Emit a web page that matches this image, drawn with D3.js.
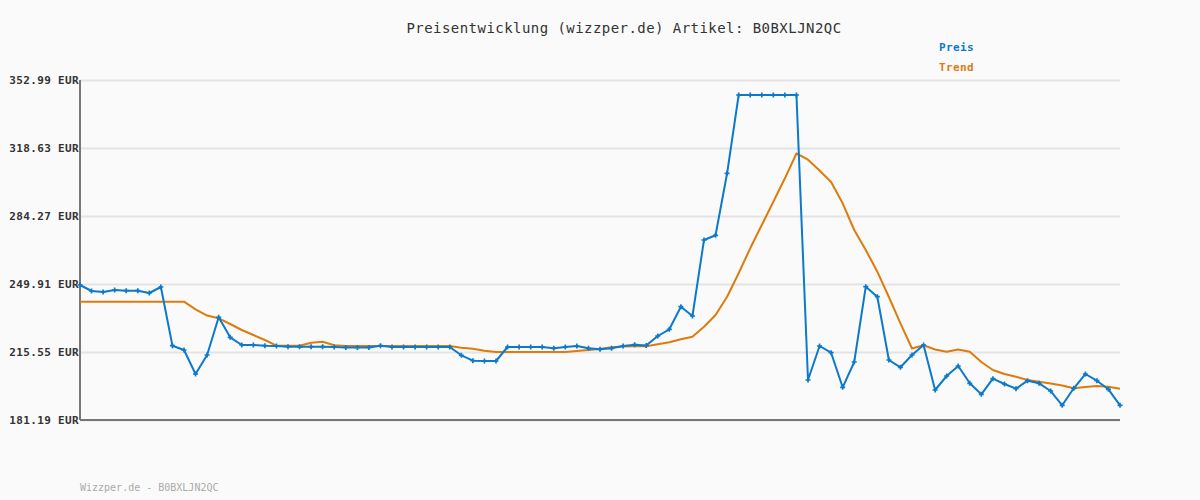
<!DOCTYPE html>
<html>
<head>
<meta charset="utf-8">
<script src="https://cdn.jsdelivr.net/npm/d3@7"></script>
<style>
  html, body { margin: 0; padding: 0; background: #fafafa; }
  text { font-family: "DejaVu Sans Mono", "Liberation Mono", monospace; }
</style>
</head>
<body>
<div id="chart"></div>
<script>
// price history (EUR), one value per sample
var preis = [
  249.40, 246.37, 245.87, 246.88, 246.52, 246.52, 245.36, 248.39, 218.73, 216.56,
  204.43, 214.03, 233.08, 222.98, 219.09, 219.09, 218.73, 218.58, 218.23, 218.23,
  218.23, 218.23, 218.08, 217.82, 217.82, 217.82, 218.73, 218.08, 218.08, 218.08,
  218.08, 218.08, 218.08, 213.88, 211.15, 211.00, 211.00, 218.08, 218.08, 218.08,
  218.08, 217.42, 218.08, 218.58, 217.42, 216.91, 217.42, 218.58, 219.24, 218.83,
  223.63, 227.02, 238.44, 233.74, 272.14, 274.52, 305.85, 345.41, 345.41, 345.41,
  345.41, 345.41, 345.41, 201.40, 218.58, 215.20, 197.71, 210.50, 248.55, 243.49,
  211.51, 207.82, 214.03, 219.09, 196.35, 203.42, 208.48, 199.73, 194.18, 202.06,
  199.38, 197.01, 201.05, 199.73, 195.84, 188.62, 197.21, 204.43, 201.05, 196.70,
  188.62
];

// trend line (EUR)
var trend = [
  240.97, 240.97, 240.97, 240.97, 240.97, 240.97, 240.97, 240.97, 240.97, 240.97,
  237.13, 233.99, 232.58, 229.70, 226.67, 224.14, 221.61, 218.73, 218.73, 218.73,
  220.25, 220.75, 218.94, 218.58, 218.58, 218.58, 218.58, 218.58, 218.58, 218.58,
  218.58, 218.58, 218.58, 217.72, 217.22, 216.21, 215.55, 215.55, 215.55, 215.55,
  215.55, 215.55, 215.55, 216.06, 216.56, 217.07, 217.92, 218.33, 218.43, 218.43,
  219.44, 220.45, 221.97, 223.28, 228.33, 234.25, 243.49, 255.32, 267.95, 279.72,
  291.50, 303.32, 315.85, 312.72, 307.26, 301.45, 290.69, 277.20, 267.09, 256.13,
  243.34, 230.05, 217.32, 218.94, 216.81, 215.70, 216.81, 215.70, 210.50, 206.45,
  204.43, 203.07, 201.40, 200.54, 199.63, 198.62, 197.21, 197.86, 198.37, 198.02,
  197.01
];

var yTicks = [181.19, 215.55, 249.91, 284.27, 318.63, 352.99];
var legendNames = ["Preis", "Trend"];
var artikel = "B0BXLJN2QC";

var svgWidth = 1200;
var svgHeight = 500;

var margin = { top: 80, right: 80, bottom: 80, left: 80 };
var chartWidth = svgWidth - margin.left - margin.right;
var chartHeight = svgHeight - margin.top - margin.bottom;

var blue = "#0d79cb";
var orange = "#de7b0c";

var svg = d3.select("#chart")
    .append("svg")
    .attr("width", svgWidth)
    .attr("height", svgHeight)
    .style("display", "block");

svg.append("rect")
    .attr("width", svgWidth)
    .attr("height", svgHeight)
    .attr("fill", "#fafafa");

// title
svg.append("text")
    .attr("x", 624)
    .attr("y", 33)
    .attr("text-anchor", "middle")
    .style("font-size", "14px")
    .style("letter-spacing", "0.45px")
    .attr("fill", "#333")
    .text("Preisentwicklung (wizzper.de) Artikel: " + artikel);

// legend
var legendColors = [blue, orange];
legendNames.forEach(function (name, i) {
    svg.append("text")
        .attr("x", 939)
        .attr("y", 51 + i * 20)
        .style("font-size", "11px")
        .style("font-weight", "bold")
        .style("letter-spacing", "0.4px")
        .attr("fill", legendColors[i])
        .text(name);
});

var chartGroup = svg.append("g")
    .attr("transform", `translate(${margin.left}, ${margin.top})`);

var xScale = d3.scaleLinear()
    .domain([0, preis.length - 1])
    .range([0, chartWidth]);

var yScale = d3.scaleLinear()
    .domain([yTicks[0], yTicks[yTicks.length - 1]])
    .range([chartHeight, 0]);

// grid lines
chartGroup.append("g")
    .call(d3.axisLeft(yScale).tickValues(yTicks).tickSize(-chartWidth).tickFormat(""))
    .call(g => g.select(".domain").remove())
    .call(g => g.selectAll("line").attr("stroke", "#e4e4e4").attr("stroke-width", 2));

// y labels
chartGroup.append("g")
    .call(d3.axisLeft(yScale).tickValues(yTicks).tickSize(0).tickPadding(1)
        .tickFormat(d => d.toFixed(2) + " EUR"))
    .call(g => g.select(".domain").remove())
    .call(g => g.selectAll("text")
        .attr("fill", "#333")
        .attr("dy", "0.35em")
        .style("font-family", "'DejaVu Sans Mono', monospace")
        .style("font-size", "11px")
        .style("font-weight", "bold")
        .style("letter-spacing", "0.35px"));

// axes lines
chartGroup.append("line")
    .attr("x1", 0).attr("x2", 0)
    .attr("y1", 0).attr("y2", chartHeight)
    .attr("stroke", "#777").attr("stroke-width", 2);

chartGroup.append("line")
    .attr("x1", 0).attr("x2", chartWidth)
    .attr("y1", chartHeight).attr("y2", chartHeight)
    .attr("stroke", "#777").attr("stroke-width", 2);

var line = d3.line()
    .x((d, i) => xScale(i))
    .y(d => yScale(d));

// trend
chartGroup.append("path")
    .datum(trend)
    .attr("fill", "none")
    .attr("stroke", orange)
    .attr("stroke-width", 2)
    .attr("stroke-linejoin", "round")
    .attr("d", line);

// preis
chartGroup.append("path")
    .datum(preis)
    .attr("fill", "none")
    .attr("stroke", blue)
    .attr("stroke-width", 2)
    .attr("stroke-linejoin", "round")
    .attr("d", line);

chartGroup.selectAll(".marker")
    .data(preis)
    .enter()
    .append("path")
    .attr("class", "marker")
    .attr("d", d3.symbol().type(d3.symbolCross).size(14))
    .attr("transform", (d, i) => `translate(${xScale(i)}, ${yScale(d)})`)
    .attr("fill", blue);

// footer
svg.append("text")
    .attr("x", 80)
    .attr("y", 491)
    .style("font-size", "10px")
    .attr("fill", "#aaa")
    .text("Wizzper.de - " + artikel);
</script>
</body>
</html>
